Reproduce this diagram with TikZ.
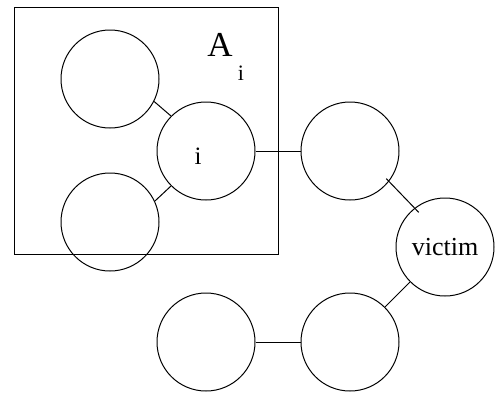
\documentclass[tikz,border=0pt]{standalone}
\usepackage{fontspec}
\setmainfont{Liberation Serif}
\tikzset{
	agent/.style={draw, circle, minimum size=98pt, inner sep=0pt, line width=1pt},
	link/.style={line width=1pt}
}
\begin{document}
\begin{tikzpicture}[x=1pt, y=-1pt]
		\useasboundingbox (0,0) rectangle (495,392);
		\draw[line width=1pt] (14,7) rectangle (278,254);
		
		\node[agent] (top) at (110,79) {};
		\node[agent] (i) at (206,151) {};
		\node[agent] (bot) at (110,222) {};
		\node[agent] (r1) at (350,151) {};
		\node[agent] (victim) at (445,247) {\fontsize{26}{30}\selectfont victim};
		\node[agent] (r2) at (350,342) {};
		\node[agent] (r3) at (206,342) {};
		
		\node[anchor=base, inner sep=0pt] (ilabel) at (198,164) {\fontsize{25}{30}\selectfont i};
		\node[anchor=base, inner sep=0pt] (A) at (220,56) {\fontsize{35}{40}\selectfont A};
		\node[anchor=base, inner sep=0pt] (Ai) at (241,80) {\fontsize{22}{26}\selectfont i};
		
		\draw[link] (top.-27) -- (i.135);
		\draw[link] (bot.25) -- (i.225);
		\draw[link] (i.east) -- (r1.west);
		\draw[link, shorten <=-4pt, shorten >=-6pt] (r1.-38) -- (victim.128);
		\draw[link] (victim.225) -- (r2.45);
		\draw[link] (r3.east) -- (r2.west);
	\end{tikzpicture}
\end{document}
